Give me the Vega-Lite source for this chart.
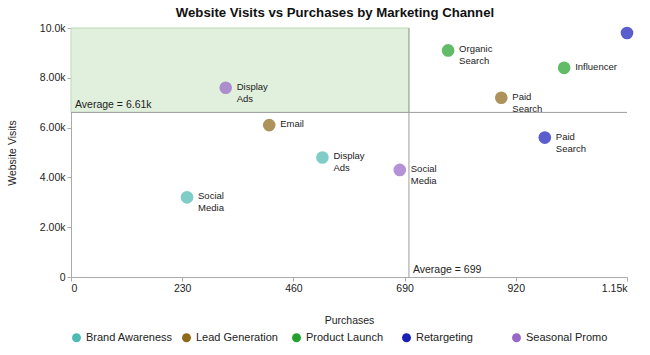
{
  "$schema": "https://vega.github.io/schema/vega-lite/v6.json",
  "width": 556,
  "height": 249,
  "padding": {"left": 7, "right": 15, "top": 5, "bottom": 5},
  "config": {
    "font": "Liberation Sans",
    "view": {"stroke": null},
    "axis": {"grid": false, "domainColor": "#aaaaaa", "tickColor": "#aaaaaa", "labelFontSize": 10.5, "labelColor": "#222222", "titleFontSize": 10.5, "titleFontWeight": "normal", "titleColor": "#222222", "tickSize": 4}
  },
  "title": {"text": "Website Visits vs Purchases by Marketing Channel", "fontSize": 13.2, "fontWeight": "bold", "color": "#111111", "offset": 3, "dx": -14},
  "data": {
    "values": [
      {"campaign": "Brand Awareness", "channel": "Social Media", "purchases": 240, "visits": 3200},
      {"campaign": "Brand Awareness", "channel": "Display Ads", "purchases": 520, "visits": 4800},
      {"campaign": "Lead Generation", "channel": "Email", "purchases": 410, "visits": 6100},
      {"campaign": "Lead Generation", "channel": "Paid Search", "purchases": 890, "visits": 7200},
      {"campaign": "Product Launch", "channel": "Organic Search", "purchases": 780, "visits": 9100},
      {"campaign": "Product Launch", "channel": "Influencer", "purchases": 1020, "visits": 8400},
      {"campaign": "Retargeting", "channel": "Email", "purchases": 1150, "visits": 9800},
      {"campaign": "Retargeting", "channel": "Paid Search", "purchases": 980, "visits": 5600},
      {"campaign": "Seasonal Promo", "channel": "Display Ads", "purchases": 320, "visits": 7600},
      {"campaign": "Seasonal Promo", "channel": "Social Media", "purchases": 680, "visits": 4300}
    ]
  },
  "layer": [
    {
      "transform": [{"aggregate": [{"op": "mean", "field": "purchases", "as": "mx"}, {"op": "mean", "field": "visits", "as": "my"}]}],
      "mark": {"type": "rect", "fill": "#e1f0dc", "stroke": "#b9dab3", "strokeWidth": 1},
      "encoding": {
        "x": {"field": "mx", "type": "quantitative", "scale": {"domain": [0, 1150], "nice": false}, "title": "Purchases",
          "axis": {"values": [0, 230, 460, 690, 920, 1150], "labelExpr": "datum.value == 0 ? '0' : format(datum.value, '.3s')", "titlePadding": 22}},
        "x2": {"datum": 0},
        "y": {"field": "my", "type": "quantitative", "scale": {"domain": [0, 10000], "nice": false}, "title": "Website Visits",
          "axis": {"values": [0, 2000, 4000, 6000, 8000, 10000], "labelExpr": "datum.value == 0 ? '0' : format(datum.value, '.3s')", "titlePadding": 22}},
        "y2": {"datum": 10000}
      }
    },
    {
      "transform": [{"aggregate": [{"op": "mean", "field": "visits", "as": "my"}]}],
      "mark": {"type": "rule", "color": "#9e9e9e", "strokeWidth": 1},
      "encoding": {
        "y": {"field": "my", "type": "quantitative"}
      }
    },
    {
      "transform": [{"aggregate": [{"op": "mean", "field": "purchases", "as": "mx"}]}],
      "mark": {"type": "rule", "color": "#9e9e9e", "strokeWidth": 1},
      "encoding": {
        "x": {"field": "mx", "type": "quantitative"}
      }
    },
    {
      "transform": [
        {"aggregate": [{"op": "mean", "field": "visits", "as": "my"}]},
        {"calculate": "'Average = ' + format(datum.my, '.3s')", "as": "lbl"}
      ],
      "mark": {"type": "text", "align": "left", "baseline": "bottom", "dx": 4, "dy": -2, "fontSize": 10.5, "color": "#222222"},
      "encoding": {
        "x": {"datum": 0, "type": "quantitative"},
        "y": {"field": "my", "type": "quantitative"},
        "text": {"field": "lbl", "type": "nominal"}
      }
    },
    {
      "transform": [
        {"aggregate": [{"op": "mean", "field": "purchases", "as": "mx"}]},
        {"calculate": "'Average = ' + format(datum.mx, '.3s')", "as": "lbl"}
      ],
      "mark": {"type": "text", "align": "left", "baseline": "bottom", "dx": 4, "dy": -2, "fontSize": 10.5, "color": "#222222"},
      "encoding": {
        "x": {"field": "mx", "type": "quantitative"},
        "y": {"datum": 0, "type": "quantitative"},
        "text": {"field": "lbl", "type": "nominal"}
      }
    },
    {
      "mark": {"type": "point", "filled": true, "shape": "circle", "size": 160, "opacity": 0.72},
      "encoding": {
        "x": {"field": "purchases", "type": "quantitative"},
        "y": {"field": "visits", "type": "quantitative"},
        "color": {"field": "campaign", "type": "nominal", "title": null,
          "scale": {"domain": ["Brand Awareness", "Lead Generation", "Product Launch", "Retargeting", "Seasonal Promo"],
                    "range": ["#4fbab3", "#8d6a1c", "#24a12c", "#1a1fb8", "#9868c8"]},
          "legend": {"orient": "bottom", "direction": "horizontal", "columns": 5, "gridAlign": "all", "symbolType": "circle", "symbolSize": 80, "symbolOpacity": 1, "labelFontSize": 11, "labelColor": "#222222", "columnPadding": 8, "offset": 6}}
      }
    },
    {
      "transform": [{"filter": "datum.purchases < 1100"}],
      "mark": {"type": "text", "align": "left", "baseline": "top", "dx": 11, "dy": -6, "fontSize": 9.5, "lineBreak": " ", "lineHeight": 12, "color": "#222222"},
      "encoding": {
        "x": {"field": "purchases", "type": "quantitative"},
        "y": {"field": "visits", "type": "quantitative"},
        "text": {"field": "channel", "type": "nominal"}
      }
    }
  ]
}
